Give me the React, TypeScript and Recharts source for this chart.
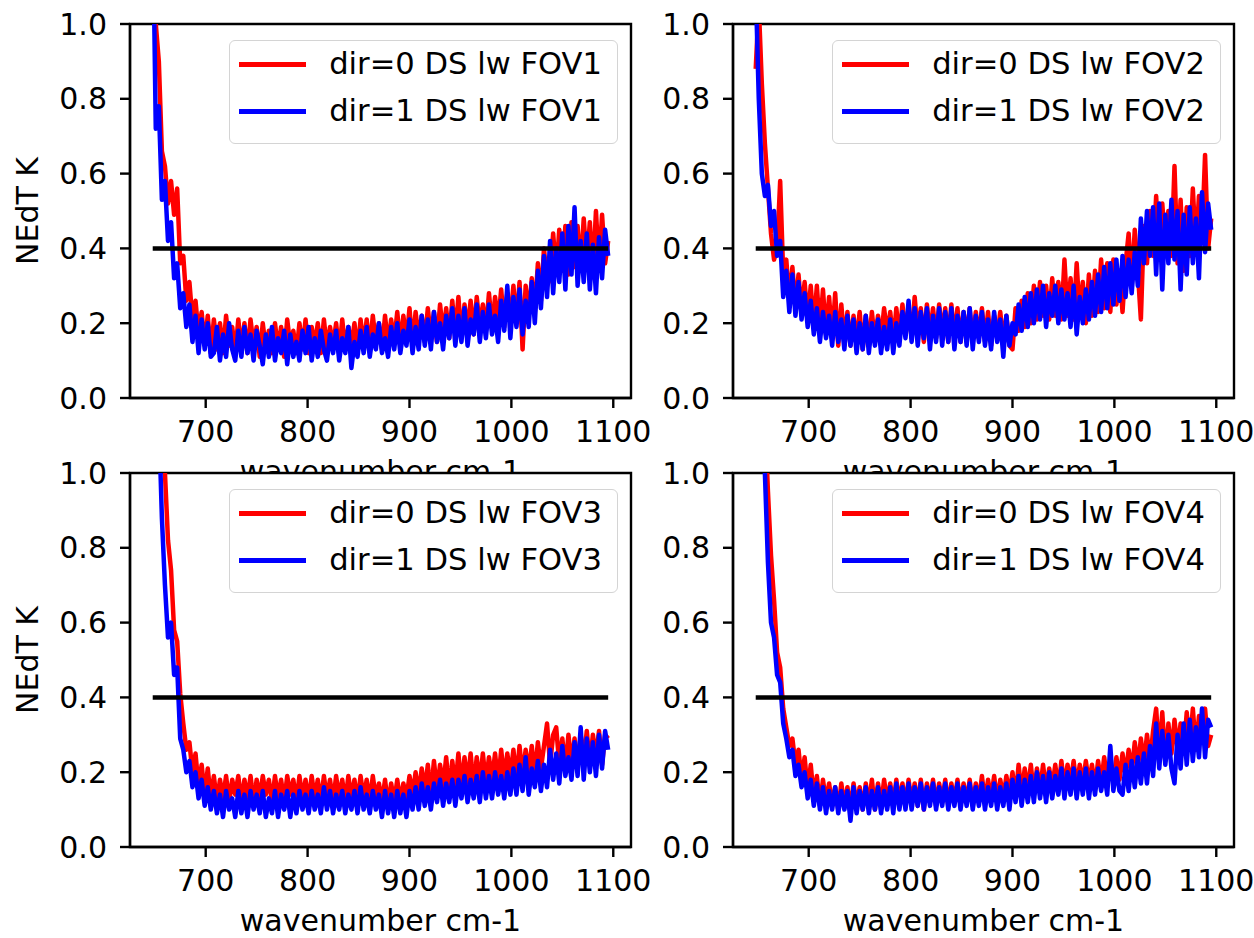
import { LineChart, Line, XAxis, YAxis, CartesianGrid, Legend, ReferenceArea } from 'recharts';

// wavenumber grid (cm-1), one row of ten per line
const wavenumber = [
  648, 651, 654, 657, 660, 663, 666, 669, 672, 675,
  678, 681, 684, 687, 690, 693, 696, 699, 702, 705,
  708, 711, 714, 717, 720, 723, 726, 729, 732, 735,
  738, 741, 744, 747, 750, 753, 756, 759, 762, 765,
  768, 771, 774, 777, 780, 783, 786, 789, 792, 795,
  798, 801, 804, 807, 810, 813, 816, 819, 822, 825,
  828, 831, 834, 837, 840, 843, 846, 849, 852, 855,
  858, 861, 864, 867, 870, 873, 876, 879, 882, 885,
  888, 891, 894, 897, 900, 903, 906, 909, 912, 915,
  918, 921, 924, 927, 930, 933, 936, 939, 942, 945,
  948, 951, 954, 957, 960, 963, 966, 969, 972, 975,
  978, 981, 984, 987, 990, 993, 996, 999, 1002, 1005,
  1008, 1011, 1014, 1017, 1020, 1023, 1026, 1029, 1032, 1035,
  1038, 1041, 1044, 1047, 1050, 1053, 1056, 1059, 1062, 1065,
  1068, 1071, 1074, 1077, 1080, 1083, 1086, 1089, 1092, 1095,
];

// NEdT (K), dir=0 (red) and dir=1 (blue) for each field of view
const fov1Dir0 = [
  1.40, 1.00, 0.90, 0.66, 0.62, 0.52, 0.58, 0.49, 0.56, 0.36,
  0.38, 0.26, 0.31, 0.21, 0.26, 0.17, 0.23, 0.14, 0.22, 0.12,
  0.21, 0.13, 0.20, 0.12, 0.22, 0.14, 0.19, 0.12, 0.21, 0.13,
  0.20, 0.12, 0.21, 0.14, 0.19, 0.11, 0.20, 0.13, 0.18, 0.12,
  0.20, 0.13, 0.19, 0.11, 0.21, 0.14, 0.18, 0.12, 0.20, 0.13,
  0.21, 0.12, 0.19, 0.14, 0.20, 0.12, 0.21, 0.13, 0.19, 0.14,
  0.20, 0.12, 0.21, 0.13, 0.19, 0.14, 0.20, 0.12, 0.21, 0.14,
  0.21, 0.13, 0.22, 0.15, 0.20, 0.13, 0.22, 0.14, 0.21, 0.15,
  0.23, 0.14, 0.22, 0.15, 0.24, 0.14, 0.23, 0.16, 0.22, 0.15,
  0.24, 0.16, 0.23, 0.15, 0.25, 0.17, 0.24, 0.16, 0.26, 0.17,
  0.27, 0.16, 0.25, 0.18, 0.26, 0.17, 0.27, 0.19, 0.25, 0.18,
  0.28, 0.19, 0.27, 0.20, 0.29, 0.19, 0.28, 0.21, 0.30, 0.20,
  0.31, 0.13, 0.30, 0.22, 0.32, 0.23, 0.36, 0.26, 0.40, 0.30,
  0.32, 0.44, 0.33, 0.45, 0.34, 0.46, 0.33, 0.47, 0.35, 0.46,
  0.34, 0.48, 0.36, 0.47, 0.33, 0.50, 0.35, 0.49, 0.36, 0.42,
];
const fov1Dir1 = [
  1.30, 0.72, 0.78, 0.53, 0.58, 0.42, 0.47, 0.32, 0.36, 0.24,
  0.28, 0.19, 0.25, 0.15, 0.22, 0.12, 0.21, 0.13, 0.20, 0.11,
  0.12, 0.19, 0.10, 0.17, 0.11, 0.20, 0.13, 0.10, 0.18, 0.11,
  0.19, 0.12, 0.17, 0.10, 0.18, 0.14, 0.09, 0.17, 0.11, 0.19,
  0.10, 0.16, 0.12, 0.18, 0.09, 0.17, 0.11, 0.15, 0.10, 0.18,
  0.12, 0.19, 0.10, 0.16, 0.11, 0.18, 0.13, 0.10, 0.17, 0.12,
  0.18, 0.10, 0.16, 0.12, 0.19, 0.08, 0.15, 0.11, 0.18, 0.12,
  0.19, 0.11, 0.17, 0.13, 0.20, 0.12, 0.16, 0.11, 0.19, 0.13,
  0.20, 0.12, 0.18, 0.14, 0.21, 0.12, 0.19, 0.13, 0.22, 0.14,
  0.21, 0.13, 0.23, 0.15, 0.20, 0.13, 0.22, 0.16, 0.24, 0.14,
  0.22, 0.15, 0.24, 0.14, 0.21, 0.17, 0.25, 0.15, 0.23, 0.16,
  0.25, 0.17, 0.22, 0.15, 0.26, 0.18, 0.30, 0.16, 0.27, 0.19,
  0.29, 0.17, 0.26, 0.19, 0.31, 0.20, 0.34, 0.24, 0.38, 0.27,
  0.42, 0.28, 0.40, 0.31, 0.44, 0.29, 0.46, 0.33, 0.51, 0.30,
  0.42, 0.31, 0.44, 0.29, 0.41, 0.28, 0.43, 0.32, 0.45, 0.38,
];
const fov2Dir0 = [
  0.88, 1.05, 0.84, 0.68, 0.56, 0.44, 0.37, 0.40, 0.58, 0.33,
  0.37, 0.26, 0.35, 0.24, 0.33, 0.23, 0.31, 0.21, 0.30, 0.19,
  0.30, 0.18, 0.29, 0.17, 0.27, 0.16, 0.28, 0.14, 0.25, 0.15,
  0.23, 0.14, 0.22, 0.15, 0.23, 0.13, 0.22, 0.14, 0.23, 0.15,
  0.22, 0.16, 0.24, 0.17, 0.23, 0.15, 0.24, 0.16, 0.25, 0.17,
  0.24, 0.16, 0.27, 0.17, 0.24, 0.15, 0.25, 0.17, 0.24, 0.16,
  0.25, 0.17, 0.24, 0.15, 0.25, 0.16, 0.24, 0.15, 0.23, 0.16,
  0.24, 0.15, 0.23, 0.16, 0.24, 0.15, 0.23, 0.14, 0.22, 0.16,
  0.23, 0.15, 0.22, 0.14, 0.13, 0.24, 0.18, 0.26, 0.19, 0.28,
  0.20, 0.30, 0.21, 0.31, 0.22, 0.30, 0.21, 0.32, 0.22, 0.31,
  0.21, 0.37, 0.22, 0.32, 0.21, 0.36, 0.22, 0.31, 0.20, 0.33,
  0.22, 0.34, 0.23, 0.37, 0.24, 0.36, 0.23, 0.37, 0.25, 0.34,
  0.23, 0.36, 0.44, 0.30, 0.45, 0.34, 0.21, 0.46, 0.36, 0.50,
  0.38, 0.54, 0.37, 0.52, 0.40, 0.50, 0.38, 0.62, 0.36, 0.53,
  0.34, 0.51, 0.38, 0.56, 0.40, 0.54, 0.43, 0.65, 0.40, 0.48,
];
const fov2Dir1 = [
  1.10, 0.80, 0.60, 0.54, 0.57, 0.46, 0.50, 0.38, 0.42, 0.27,
  0.34, 0.23, 0.33, 0.22, 0.31, 0.21, 0.28, 0.19, 0.26, 0.17,
  0.24, 0.15, 0.23, 0.16, 0.22, 0.14, 0.23, 0.15, 0.21, 0.13,
  0.22, 0.14, 0.21, 0.12, 0.20, 0.13, 0.22, 0.12, 0.20, 0.14,
  0.21, 0.12, 0.19, 0.13, 0.21, 0.12, 0.20, 0.14, 0.23, 0.16,
  0.26, 0.15, 0.24, 0.14, 0.23, 0.16, 0.24, 0.13, 0.22, 0.15,
  0.24, 0.14, 0.23, 0.15, 0.24, 0.13, 0.22, 0.15, 0.23, 0.14,
  0.24, 0.13, 0.22, 0.15, 0.23, 0.14, 0.21, 0.13, 0.23, 0.15,
  0.21, 0.11, 0.22, 0.14, 0.20, 0.17, 0.25, 0.18, 0.27, 0.19,
  0.28, 0.20, 0.29, 0.21, 0.30, 0.19, 0.28, 0.22, 0.30, 0.20,
  0.29, 0.21, 0.28, 0.19, 0.30, 0.17, 0.27, 0.20, 0.29, 0.21,
  0.31, 0.22, 0.33, 0.23, 0.35, 0.24, 0.36, 0.25, 0.37, 0.26,
  0.38, 0.27, 0.37, 0.28, 0.39, 0.30, 0.48, 0.36, 0.50, 0.38,
  0.51, 0.33, 0.52, 0.29, 0.49, 0.36, 0.53, 0.37, 0.50, 0.29,
  0.49, 0.33, 0.51, 0.36, 0.48, 0.32, 0.55, 0.39, 0.52, 0.45,
];
const fov3Dir0 = [
  2.20, 1.75, 1.45, 1.20, 1.00, 0.82, 0.74, 0.58, 0.55, 0.41,
  0.33, 0.26, 0.28, 0.20, 0.25, 0.16, 0.22, 0.14, 0.21, 0.13,
  0.19, 0.12, 0.18, 0.13, 0.19, 0.12, 0.18, 0.14, 0.19, 0.12,
  0.18, 0.13, 0.19, 0.12, 0.18, 0.13, 0.19, 0.14, 0.18, 0.12,
  0.19, 0.13, 0.18, 0.12, 0.19, 0.14, 0.18, 0.12, 0.19, 0.13,
  0.18, 0.12, 0.19, 0.13, 0.18, 0.12, 0.19, 0.13, 0.18, 0.12,
  0.19, 0.13, 0.18, 0.12, 0.19, 0.13, 0.18, 0.12, 0.19, 0.13,
  0.18, 0.12, 0.19, 0.13, 0.17, 0.12, 0.18, 0.11, 0.17, 0.12,
  0.18, 0.12, 0.17, 0.13, 0.19, 0.14, 0.20, 0.14, 0.21, 0.15,
  0.22, 0.14, 0.23, 0.15, 0.22, 0.16, 0.24, 0.15, 0.23, 0.16,
  0.25, 0.16, 0.24, 0.17, 0.25, 0.16, 0.24, 0.17, 0.25, 0.17,
  0.24, 0.18, 0.25, 0.17, 0.26, 0.18, 0.25, 0.19, 0.26, 0.18,
  0.27, 0.19, 0.26, 0.20, 0.27, 0.19, 0.28, 0.21, 0.27, 0.33,
  0.22, 0.30, 0.32, 0.22, 0.29, 0.21, 0.30, 0.22, 0.29, 0.21,
  0.30, 0.23, 0.31, 0.22, 0.30, 0.24, 0.31, 0.22, 0.30, 0.29,
];
const fov3Dir1 = [
  1.90, 1.45, 1.15, 0.88, 0.70, 0.56, 0.60, 0.46, 0.48, 0.29,
  0.26, 0.20, 0.23, 0.16, 0.20, 0.13, 0.18, 0.11, 0.16, 0.10,
  0.15, 0.09, 0.14, 0.08, 0.15, 0.10, 0.13, 0.08, 0.15, 0.09,
  0.14, 0.08, 0.15, 0.10, 0.14, 0.09, 0.15, 0.08, 0.13, 0.09,
  0.15, 0.08, 0.14, 0.10, 0.15, 0.08, 0.14, 0.09, 0.15, 0.10,
  0.14, 0.09, 0.15, 0.10, 0.14, 0.09, 0.16, 0.10, 0.15, 0.09,
  0.14, 0.10, 0.15, 0.09, 0.14, 0.10, 0.15, 0.09, 0.16, 0.10,
  0.14, 0.09, 0.15, 0.10, 0.14, 0.08, 0.15, 0.09, 0.14, 0.08,
  0.15, 0.09, 0.14, 0.08, 0.15, 0.10, 0.16, 0.10, 0.17, 0.11,
  0.16, 0.10, 0.17, 0.12, 0.18, 0.11, 0.17, 0.12, 0.18, 0.11,
  0.18, 0.13, 0.19, 0.12, 0.18, 0.13, 0.19, 0.12, 0.20, 0.13,
  0.19, 0.13, 0.20, 0.14, 0.19, 0.13, 0.20, 0.14, 0.21, 0.14,
  0.22, 0.15, 0.24, 0.14, 0.21, 0.16, 0.23, 0.15, 0.22, 0.16,
  0.26, 0.18, 0.25, 0.17, 0.27, 0.19, 0.24, 0.18, 0.28, 0.19,
  0.32, 0.18, 0.29, 0.20, 0.28, 0.19, 0.30, 0.21, 0.31, 0.26,
];
const fov4Dir0 = [
  2.20, 1.75, 1.45, 1.15, 0.95, 0.78, 0.66, 0.52, 0.48, 0.37,
  0.32, 0.27, 0.29, 0.22, 0.26, 0.18, 0.24, 0.15, 0.22, 0.13,
  0.19, 0.11, 0.18, 0.12, 0.17, 0.11, 0.16, 0.10, 0.17, 0.11,
  0.16, 0.10, 0.17, 0.11, 0.16, 0.10, 0.17, 0.11, 0.18, 0.10,
  0.17, 0.11, 0.18, 0.12, 0.17, 0.11, 0.18, 0.12, 0.17, 0.11,
  0.18, 0.12, 0.17, 0.11, 0.18, 0.10, 0.17, 0.12, 0.18, 0.11,
  0.17, 0.12, 0.18, 0.11, 0.17, 0.12, 0.18, 0.11, 0.17, 0.12,
  0.18, 0.11, 0.17, 0.12, 0.19, 0.12, 0.18, 0.13, 0.19, 0.12,
  0.18, 0.13, 0.19, 0.14, 0.20, 0.13, 0.22, 0.14, 0.21, 0.15,
  0.22, 0.14, 0.21, 0.15, 0.22, 0.15, 0.21, 0.16, 0.22, 0.15,
  0.23, 0.16, 0.22, 0.17, 0.23, 0.16, 0.22, 0.17, 0.23, 0.17,
  0.22, 0.16, 0.23, 0.17, 0.24, 0.18, 0.23, 0.17, 0.24, 0.18,
  0.25, 0.19, 0.26, 0.20, 0.28, 0.21, 0.29, 0.22, 0.30, 0.23,
  0.31, 0.37, 0.24, 0.36, 0.23, 0.33, 0.25, 0.34, 0.26, 0.33,
  0.25, 0.36, 0.27, 0.37, 0.26, 0.35, 0.28, 0.37, 0.27, 0.30,
];
const fov4Dir1 = [
  2.00, 1.60, 1.30, 1.00, 0.76, 0.60, 0.56, 0.46, 0.44, 0.33,
  0.29, 0.24, 0.26, 0.19, 0.22, 0.16, 0.20, 0.13, 0.18, 0.11,
  0.17, 0.10, 0.16, 0.09, 0.15, 0.10, 0.16, 0.09, 0.15, 0.10,
  0.15, 0.07, 0.16, 0.09, 0.15, 0.10, 0.16, 0.09, 0.15, 0.10,
  0.16, 0.09, 0.15, 0.10, 0.16, 0.09, 0.17, 0.10, 0.16, 0.10,
  0.17, 0.10, 0.16, 0.11, 0.17, 0.10, 0.16, 0.11, 0.17, 0.10,
  0.16, 0.11, 0.17, 0.10, 0.16, 0.11, 0.17, 0.10, 0.16, 0.11,
  0.17, 0.10, 0.16, 0.11, 0.17, 0.10, 0.16, 0.11, 0.17, 0.10,
  0.16, 0.11, 0.17, 0.10, 0.18, 0.12, 0.19, 0.11, 0.18, 0.12,
  0.19, 0.12, 0.20, 0.13, 0.19, 0.12, 0.20, 0.13, 0.19, 0.14,
  0.21, 0.13, 0.20, 0.14, 0.21, 0.13, 0.20, 0.14, 0.21, 0.13,
  0.20, 0.14, 0.21, 0.15, 0.20, 0.14, 0.27, 0.15, 0.21, 0.15,
  0.14, 0.22, 0.15, 0.23, 0.16, 0.24, 0.17, 0.25, 0.17, 0.27,
  0.19, 0.33, 0.21, 0.31, 0.22, 0.30, 0.21, 0.17, 0.30, 0.21,
  0.33, 0.22, 0.34, 0.23, 0.32, 0.24, 0.37, 0.24, 0.34, 0.32,
];

// spec line
const thresholdLevel = 0.4;
const thresholdSpan = [648, 1095];

const xTicks = [700, 800, 900, 1000, 1100];
const yTicks = [0, 0.2, 0.4, 0.6, 0.8, 1.0];
const xDomain = [625.7, 1117.4];
const yDomain = [0, 1];

const FONT = '"DejaVu Sans", sans-serif';
const CHART_W = 660;
const CHART_H = 520;
const PLOT_TOP = 24;
const PLOT_BOTTOM = 398;
const PLOT_RIGHT = 631;
const spine = { stroke: '#000', strokeWidth: 2.4 };
const tickStyle = { fill: '#000', fontSize: 30 };

const panels = [
  { fov: 'FOV1', dir0: fov1Dir0, dir1: fov1Dir1, left: 0, top: 0, yTitle: true },
  { fov: 'FOV2', dir0: fov2Dir0, dir1: fov2Dir1, left: 603, top: 0, yTitle: false },
  { fov: 'FOV3', dir0: fov3Dir0, dir1: fov3Dir1, left: 0, top: 449, yTitle: true },
  { fov: 'FOV4', dir0: fov4Dir0, dir1: fov4Dir1, left: 603, top: 449, yTitle: false },
];

const thresholdRows = thresholdSpan.map((wn) => ({ wn, level: thresholdLevel }));

function XTitle(props: any) {
  const vb = props.viewBox || { x: 130, y: PLOT_BOTTOM, width: 501 };
  return (
    <text x={vb.x + vb.width / 2} y={vb.y + 84} textAnchor="middle" fontSize={30} fill="#000">
      wavenumber cm-1
    </text>
  );
}

function YTitle(props: any) {
  const vb = props.viewBox || { x: 10, y: PLOT_TOP, height: 374 };
  const x = vb.x + 28;
  const y = vb.y + vb.height / 2;
  return (
    <text x={x} y={y} transform={`rotate(-90, ${x}, ${y})`} textAnchor="middle" fontSize={30} fill="#000">
      NEdT K
    </text>
  );
}

function LegendBox({ fov }: { fov: string }) {
  const items = [
    { color: '#ff0000', label: `dir=0 DS lw ${fov}` },
    { color: '#0000ff', label: `dir=1 DS lw ${fov}` },
  ];
  return (
    <div
      style={{
        background: 'rgba(255,255,255,0.8)',
        border: '1.5px solid #d4d4d4',
        borderRadius: 6,
        padding: '0 15px 8px 9px',
        fontFamily: FONT,
        fontSize: 30.6,
        color: '#000',
      }}
    >
      {items.map((it) => (
        <div key={it.label} style={{ display: 'flex', alignItems: 'center', height: 47 }}>
          <span style={{ display: 'inline-block', width: 67, height: 4.5, background: it.color, marginRight: 23 }} />
          <span style={{ whiteSpace: 'nowrap', lineHeight: 1 }}>{it.label}</span>
        </div>
      ))}
    </div>
  );
}

function Panel({ p }: { p: (typeof panels)[number] }) {
  const rows = wavenumber.map((wn, i) => ({ wn, dir0: p.dir0[i], dir1: p.dir1[i] }));
  return (
    <div style={{ position: 'absolute', left: p.left, top: p.top }}>
      <LineChart width={CHART_W} height={CHART_H} data={rows} margin={{ top: PLOT_TOP, right: CHART_W - PLOT_RIGHT, bottom: 0, left: 10 }}>
        <CartesianGrid horizontal={false} vertical={false} fill="#fff" fillOpacity={1} />
        <XAxis
          dataKey="wn"
          type="number"
          domain={xDomain}
          ticks={xTicks}
          interval={0}
          allowDataOverflow
          height={CHART_H - PLOT_BOTTOM}
          tickSize={10}
          tickMargin={13}
          tick={tickStyle}
          axisLine={spine}
          tickLine={spine}
          label={(props: any) => <XTitle {...props} />}
        />
        <YAxis
          type="number"
          domain={yDomain}
          ticks={yTicks}
          interval={0}
          allowDataOverflow
          width={120}
          tickSize={10}
          tickMargin={13}
          tick={tickStyle}
          tickFormatter={(v: number) => v.toFixed(1)}
          axisLine={spine}
          tickLine={spine}
          label={p.yTitle ? (props: any) => <YTitle {...props} /> : undefined}
        />
        <Line type="linear" dataKey="dir0" stroke="#ff0000" strokeWidth={4.5} strokeLinejoin="round" dot={false} isAnimationActive={false} />
        <Line type="linear" dataKey="dir1" stroke="#0000ff" strokeWidth={4.5} strokeLinejoin="round" dot={false} isAnimationActive={false} />
        <Line type="linear" data={thresholdRows} dataKey="level" stroke="#000" strokeWidth={4.5} dot={false} legendType="none" isAnimationActive={false} />
        {/* axes frame */}
        <ReferenceArea x1={xDomain[0]} x2={xDomain[1]} y1={yDomain[0]} y2={yDomain[1]} fill="none" fillOpacity={0} stroke="#000" strokeWidth={2.4} ifOverflow="visible" />
        <Legend
          layout="vertical"
          align="center"
          verticalAlign="middle"
          wrapperStyle={{ left: 'auto', right: CHART_W - (PLOT_RIGHT - 13), top: 40, width: 'auto', height: 'auto' }}
          content={() => <LegendBox fov={p.fov} />}
        />
      </LineChart>
    </div>
  );
}

export default function App() {
  return (
    <div
      style={{
        position: 'absolute',
        left: 0,
        top: 0,
        width: 1254,
        height: 938,
        overflow: 'hidden',
        background: '#fff',
        fontFamily: FONT,
      }}
    >
      {panels.map((p) => (
        <Panel key={p.fov} p={p} />
      ))}
    </div>
  );
}
